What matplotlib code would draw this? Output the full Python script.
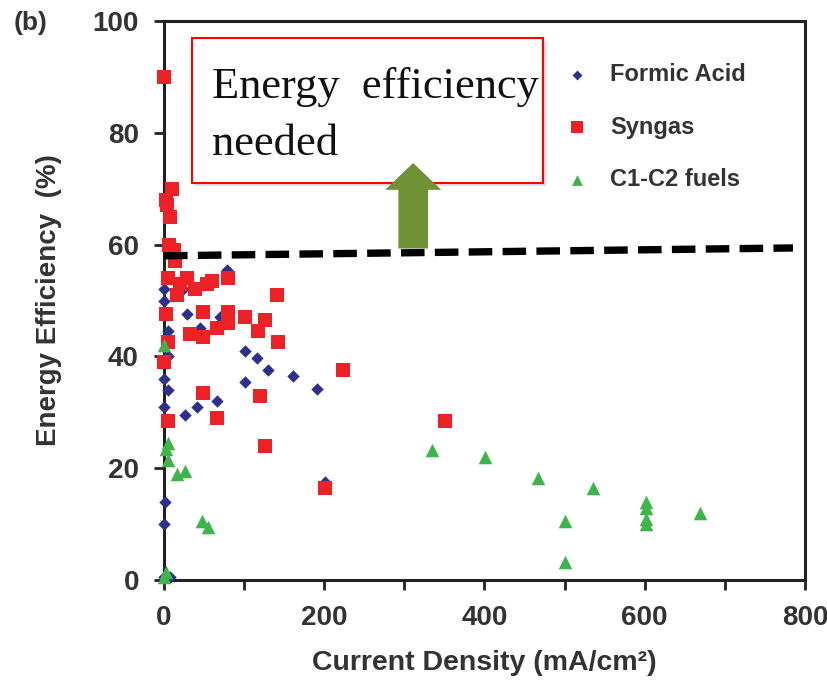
import matplotlib
matplotlib.use("Agg")
import matplotlib.pyplot as plt
from matplotlib.patches import Rectangle, FancyArrow

plt.rcParams['font.family'] = ['Liberation Sans', 'DejaVu Sans']

# ---------------- data ----------------
formic_x = [0, 0, 24, 79, 29, 5, 5, 0, 5, 0, 26, 41, 66, 101, 116, 130, 161, 191, 101, 45, 70, 201, 1, 0, 8, 0]
formic_y = [50, 52, 52, 55.5, 47.5, 44.5, 40, 36, 34, 31, 29.5, 31, 32, 41, 39.7, 37.6, 36.5, 34.2, 35.5, 45, 47, 17.5, 14, 10, 0.5, 0.5]

syngas_x = [0, 2, 4, 10, 8, 6, 12, 14, 5, 29, 54, 16, 39, 80, 141, 3, 49, 80, 101, 126,
            32, 49, 66, 80, 117, 142, 224, 120, 49, 66, 5, 0, 5, 126, 201, 351, 20, 60]
syngas_y = [90, 68, 67, 70, 65, 60, 59, 57, 54, 54, 53, 51, 52, 54, 51, 47.5, 48, 48, 47, 46.5,
            44, 43.5, 45, 46, 44.5, 42.5, 37.5, 33, 33.5, 29, 28.5, 39, 42.5, 24, 16.5, 28.5, 53, 53.5]

c12_x = [0, 3, 5, 5, 16, 26, 47, 55, 0, 2, 335, 401, 467, 535, 501, 501, 601, 601, 601, 601, 669]
c12_y = [42, 23.5, 21.5, 24.5, 19, 19.5, 10.5, 9.5, 0.5, 1.5, 23.3, 22, 18.3, 16.5, 10.5, 3.3, 14, 12.8, 11, 10, 12]

series_labels = ["Formic Acid", "Syngas", "C1-C2 fuels"]
target_x = [0, 785]
target_y = [58.0, 59.4]
arrow_x = 311
arrow_y0, arrow_y1 = 59.3, 74.6
x_ticks = [0, 200, 400, 600, 800]
x_minor = [100, 300, 500, 700]
y_ticks = [0, 20, 40, 60, 80, 100]

# ---------------- figure ----------------
fig = plt.figure(figsize=(8.28, 6.82), dpi=100)
ax = fig.add_axes([164/828, 1-580/682, (805-164)/828, (580-21)/682])

BLUE = '#2e2f8f'
RED = '#ee2127'
GREEN = '#3db54a'
TXT = '#333333'

ax.scatter(formic_x, formic_y, marker='D', s=40, color=BLUE, linewidths=0, zorder=3, label=series_labels[0], clip_on=False)
ax.scatter(syngas_x, syngas_y, marker='s', s=105, color=RED, linewidths=0, zorder=4, label=series_labels[1], clip_on=False)
ax.scatter(c12_x, c12_y, marker='^', s=95, color=GREEN, linewidths=0, zorder=5, label=series_labels[2], clip_on=False)

ax.plot(target_x, target_y, color='black', lw=5.3, dashes=(3.2, 1.4), zorder=6,
        solid_capstyle='butt', dash_capstyle='butt')

arr = FancyArrow(arrow_x, arrow_y0, 0, arrow_y1 - arrow_y0, width=37, head_width=70,
                 head_length=4.8, length_includes_head=True, color='#6f9234', zorder=10, lw=0)
ax.add_patch(arr)

ax.set_xlim(0, 800)
ax.set_ylim(0, 100)
ax.set_xticks(x_ticks)
ax.set_xticks(x_minor, minor=True)
ax.set_yticks(y_ticks)

for s in ax.spines.values():
    s.set_linewidth(2.2)
    s.set_color('#222222')

ax.tick_params(axis='both', which='both', direction='out', length=7, width=2, color='#222222',
               labelsize=20, labelcolor=TXT)
ax.tick_params(axis='y', pad=11)
ax.tick_params(axis='x', pad=11)
for lab in ax.get_xticklabels() + ax.get_yticklabels():
    lab.set_fontweight('bold')

ax.set_xlabel("Current Density (mA/cm²)", fontsize=20.5, fontweight='bold', color=TXT, labelpad=14)
ax.set_ylabel("Energy Efficiency  (%)", fontsize=20, fontweight='bold', color=TXT, labelpad=22)

fig.text(14/828, 1-23/682, "(b)", fontsize=19, fontweight='bold', color=TXT, ha='left', va='center')

# text box
x0, x1 = (192-164)/641, (543-164)/641
y0, y1 = (580-183)/559, (580-38)/559
shadow = Rectangle((x0+0.004, y0-0.005), x1-x0, y1-y0, transform=ax.transAxes,
                   facecolor='#dcdcdc', edgecolor='none', zorder=7)
ax.add_patch(shadow)
box = Rectangle((x0, y0), x1-x0, y1-y0, transform=ax.transAxes,
                facecolor='white', edgecolor='#ff0000', lw=1.5, zorder=8)
ax.add_patch(box)
ax.text((212-164)/641, (580-98)/559, "Energy  efficiency", transform=ax.transAxes,
        fontsize=32, family='Liberation Serif', color='#111111', va='baseline', ha='left', zorder=9)
ax.text((212-164)/641, (580-155)/559, "needed", transform=ax.transAxes,
        fontsize=32, family='Liberation Serif', color='#111111', va='baseline', ha='left', zorder=9)

leg = ax.legend(loc='upper left', bbox_to_anchor=((565-164)/641, 1-(63-21)/559), frameon=False,
                fontsize=17, markerscale=0.8, handlelength=1.0, handletextpad=0.9,
                labelspacing=1.25, borderaxespad=0, borderpad=0)
for t in leg.get_texts():
    t.set_fontweight('bold')
    t.set_color(TXT)

fig.savefig("out.png", dpi=100)
